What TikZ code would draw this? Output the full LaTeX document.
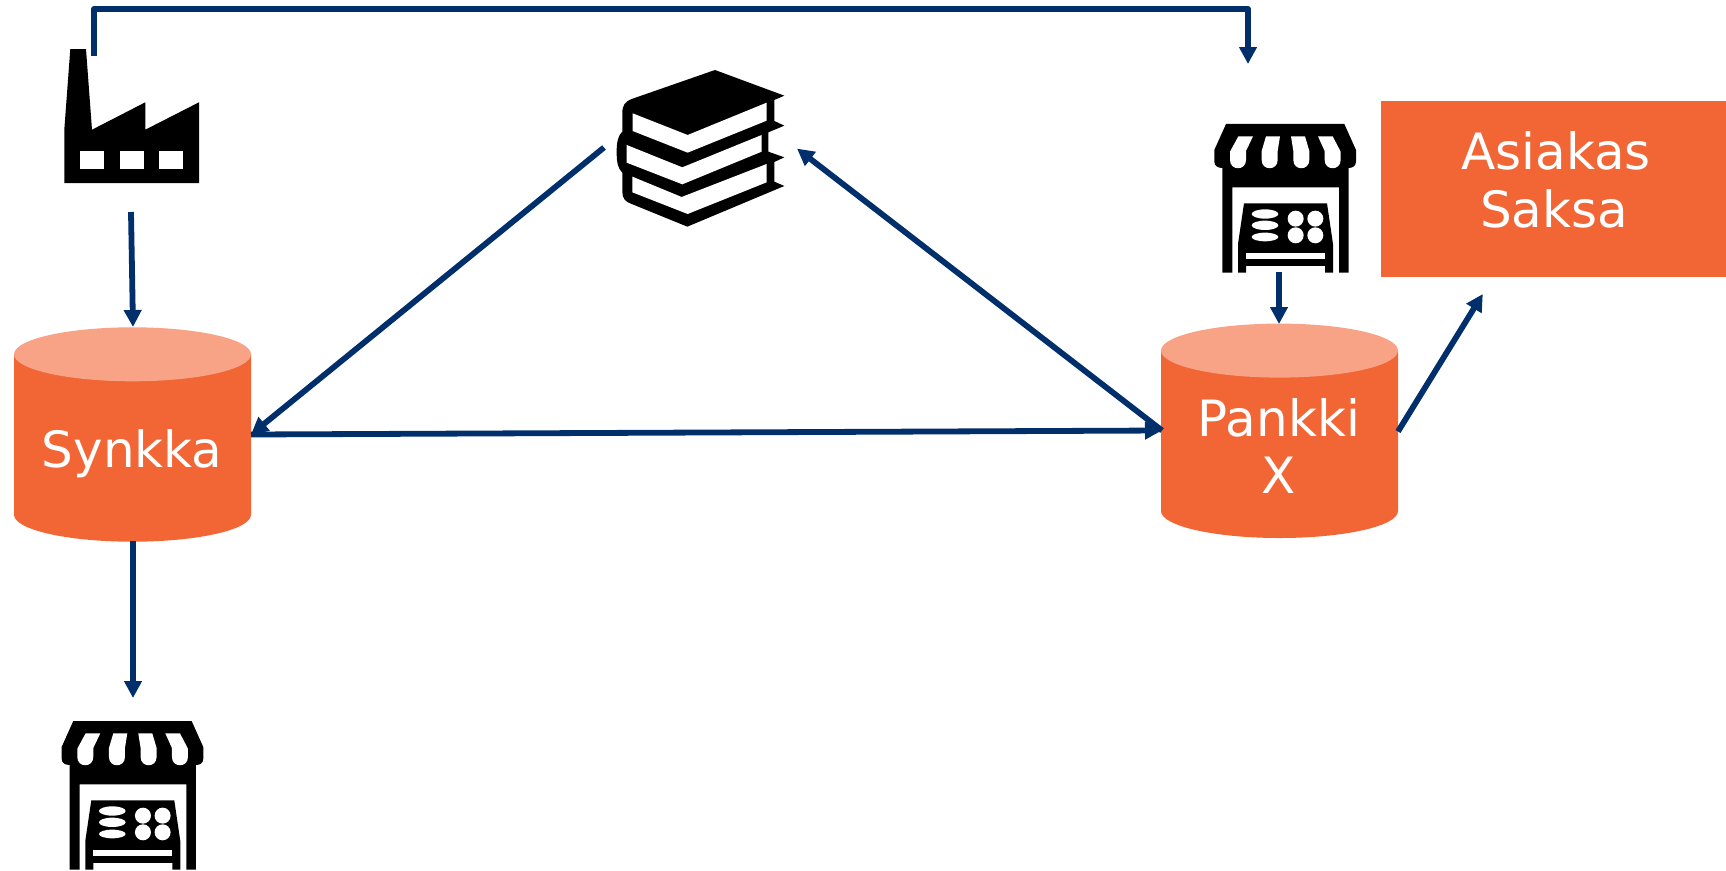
\documentclass[tikz,border=0pt]{standalone}
\usepackage{fontspec}
\setmainfont{DejaVu Sans}
\usetikzlibrary{arrows.meta}
\definecolor{navy}{HTML}{002F6C}
\definecolor{body}{HTML}{F26534}
\definecolor{lid}{HTML}{F8A385}
\tikzset{
  x=1pt,y=-1pt,
  conn/.style={draw=navy,line width=5.8pt,-{Triangle[length=17pt,width=17pt]}},
  txt/.style={text=white,font=\fontsize{50pt}{58pt}\selectfont,align=center,inner sep=0pt},
  icon/.style={fill=black,draw=none},
  hole/.style={fill=white,draw=none}
}
\newcommand{\cyl}[3]{% centre x, top y, bottom y
  \fill[body] (#1-118.5,#2+27) -- (#1-118.5,#3-27) arc[x radius=118.5,y radius=27,start angle=180,end angle=0] -- (#1+118.5,#2+27) -- cycle;
  \fill[lid] (#1,#2+27) ellipse[x radius=118.5,y radius=27];
}
\newcommand{\shopicon}[2]{%
\begin{scope}[shift={(#1,#2)},x=0.3333pt,y=-0.3333pt]
  \fill[icon] (108,102) -- (463,102) -- (498,180) -- (498,215) .. controls (498,228) and (488,234) .. (476,234)
     -- (476,548) -- (447,548) -- (447,292) -- (127,292) -- (127,548) -- (97,548) -- (97,234)
     .. controls (84,234) and (73,228) .. (73,215) -- (73,180) -- cycle;
  \fill[icon] (162,340) -- (411,340) -- (429,462) -- (429,548) -- (405,548) -- (405,528) -- (168,528) -- (168,548) -- (144,548) -- (144,462) -- cycle;
  \fill[hole] (145,139) -- (189,139) -- (168,183) -- (168,210) .. controls (168,243) and (120,243) .. (120,210) -- (120,185) -- cycle;
  \fill[hole] (228,139) -- (270,139) -- (263,183) -- (263,210) .. controls (263,243) and (215,243) .. (215,210) -- (215,183) -- cycle;
  \fill[hole] (303,139) -- (345,139) -- (358,183) -- (358,210) .. controls (358,243) and (310,243) .. (310,210) -- (310,183) -- cycle;
  \fill[hole] (384,139) -- (428,139) -- (452,185) -- (452,210) .. controls (452,243) and (404,243) .. (404,210) -- (404,183) -- cycle;
  \fill[hole] (225,372) ellipse[x radius=40,y radius=14];
  \fill[hole] (225,406) ellipse[x radius=40,y radius=14];
  \fill[hole] (225,441) ellipse[x radius=40,y radius=13];
  \fill[hole] (317,386) circle[radius=24];
  \fill[hole] (376,386) circle[radius=24];
  \fill[hole] (317,436) circle[radius=24];
  \fill[hole] (376,436) circle[radius=24];
  \fill[hole] (168,489) rectangle (405,507);
\end{scope}}
\begin{document}
\begin{tikzpicture}
\useasboundingbox (0,0) rectangle (1726,870);
% factory
\fill[icon] (70.3,49) -- (86,49) -- (92,129.7) -- (145.3,102.3) -- (145.3,129.7) -- (199,102.3) -- (199,183) -- (64.3,183) -- (64.3,129.7) -- cycle;
\fill[hole] (80,151.3) rectangle (104,169.3);
\fill[hole] (119.5,151.3) rectangle (143.7,169.3);
\fill[hole] (159,151.3) rectangle (183,169.3);
% books
\begin{scope}[shift={(590,50)},x=0.3333pt,y=-0.3333pt]
  \fill[icon] (375,60) -- (583,137) -- (553,150) -- (553,213) -- (583,227) -- (535,247) -- (535,305) -- (583,322) -- (553,336) -- (553,395) -- (583,408) -- (292,530) -- (125,462)
    .. controls (105,455) and (97,445) .. (97,425) -- (97,368) .. controls (84,355) and (80,340) .. (80,305)
    .. controls (80,275) and (85,255) .. (97,245) -- (97,190) .. controls (97,165) and (105,155) .. (125,147) -- cycle;
  \fill[hole] (128,190) -- (293,255) -- (530,158) -- (530,212) -- (293,308) -- (128,243) -- cycle;
  \fill[hole] (110,285) -- (277,352) -- (515,255) -- (515,305) -- (277,403) -- (110,338) -- cycle;
  \fill[hole] (127,380) -- (275,441) -- (530,342) -- (530,397) -- (293,492) -- (127,427) -- cycle;
\end{scope}
\shopicon{1190}{90}
\shopicon{37.3}{687}
% cylinders
\cyl{132.5}{327.3}{541.7}
\cyl{1279.5}{323.6}{538}
\node[txt,anchor=base] (synkka) at (132,467) {Synkka};
\node[txt,anchor=base] (pankki) at (1279,436) {Pankki};
\node[txt,anchor=base] (pankkix) at (1279,493) {X};
% customer
\fill[body] (1381,101) rectangle (1726,276.7);
\node[txt,anchor=base] (asiakas) at (1556,169) {Asiakas};
\node[txt,anchor=base] (saksa) at (1554,227) {Saksa};
% named free ends
\coordinate (factoryTop) at (94,56);
\coordinate (cornerA) at (94,9);
\coordinate (cornerB) at (1248,9);
\coordinate (shopTop) at (1248,64);
\coordinate (factoryBottom) at (131,212);
\coordinate (synkkaTop) at (133,327);
\coordinate (bookLeft) at (604,147.5);
\coordinate (bookRight) at (797,148.6);
\coordinate (synkkaW) at (251,434.5);
\coordinate (pankkiW) at (1162,430.5);
\coordinate (shopBottom) at (1279,272);
\coordinate (pankkiTop) at (1279,324);
\coordinate (pankkiE) at (1398,431.5);
\coordinate (customer) at (1482.8,294);
\coordinate (synkkaBottom) at (133,541);
\coordinate (shopLow) at (133,698);
% connectors
\draw[conn,line join=round] (factoryTop) -- (cornerA) -- (cornerB) -- (shopTop);
\draw[conn] (factoryBottom) -- (synkkaTop);
\draw[conn] (bookLeft) -- (synkkaW);
\draw[conn] (synkkaW) -- (pankkiW);
\draw[conn] (pankkiW) -- (bookRight);
\draw[conn] (shopBottom) -- (pankkiTop);
\draw[conn] (pankkiE) -- (customer);
\draw[conn] (synkkaBottom) -- (shopLow);
\end{tikzpicture}
\end{document}
